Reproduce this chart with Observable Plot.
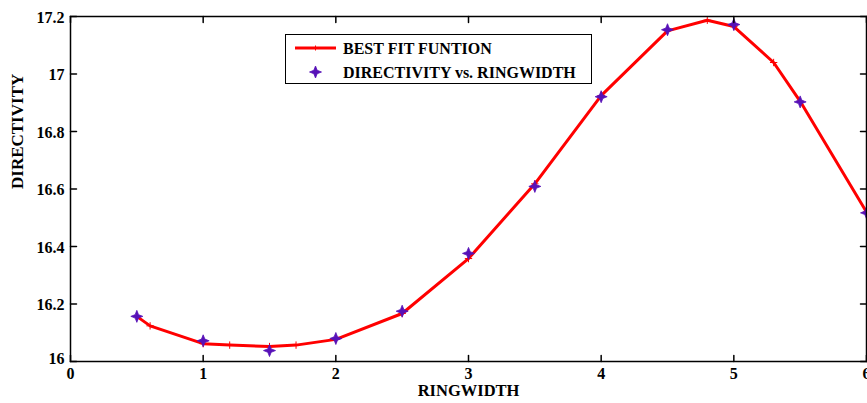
<!DOCTYPE html>
<html><head><meta charset="utf-8">
<script src="https://cdn.jsdelivr.net/npm/d3@7"></script>
<script src="https://cdn.jsdelivr.net/npm/@observablehq/plot@0.6"></script>
<style>
body{margin:0;background:#fff;}
#wrap{position:relative;width:867px;height:403px;}
#legend{position:absolute;left:285px;top:34px;width:305px;height:48px;border:1.5px solid #000;background:#fff;}
#legend text{font-family:"Liberation Serif","Times New Roman",serif;font-weight:bold;font-size:16px;}
</style></head><body><div id="wrap"></div>
<script>
// measured data (DIRECTIVITY vs. RINGWIDTH)
const ringwidth = [0.5, 1, 1.5, 2, 2.5, 3, 3.5, 4, 4.5, 5, 5.5, 6];
const directivity = [16.157, 16.072, 16.038, 16.080, 16.175, 16.376, 16.609, 16.921, 17.154, 17.172, 16.903, 16.517];
// best fit function polyline
const fitX = [0.5, 0.6, 1.0, 1.2, 1.5, 1.7, 2.0, 2.5, 3.0, 3.5, 4.0, 4.5, 4.8, 5.0, 5.3, 5.5, 6.0];
const fitY = [16.157, 16.124, 16.062, 16.057, 16.052, 16.057, 16.077, 16.167, 16.358, 16.618, 16.925, 17.150, 17.187, 17.165, 17.040, 16.905, 16.520];
const xTicks = [0, 1, 2, 3, 4, 5, 6];
const yTicks = [16, 16.2, 16.4, 16.6, 16.8, 17, 17.2];
const yTickLabels = ["16", "16.2", "16.4", "16.6", "16.8", "17", "17.2"];

const measured = ringwidth.map((x, i) => ({x, y: directivity[i]}));
const fit = fitX.map((x, i) => ({x, y: fitY[i]}));
const yLab = yTicks.map((y, i) => ({y, label: yTickLabels[i]}));

const FONT = '"Liberation Serif","Times New Roman",serif';
const PURPLE = "#5711b8";
const tickShape = {draw(ctx, l) { ctx.moveTo(0, 0); ctx.lineTo(0, -l); }};
const star4 = {draw(ctx, size) {
  const R = Math.sqrt(size / Math.PI), ri = R * 0.4;
  for (let i = 0; i < 8; i++) {
    const a = i * Math.PI / 4 - Math.PI / 2, r = i % 2 ? ri : R;
    const px = r * Math.cos(a), py = r * Math.sin(a);
    i ? ctx.lineTo(px, py) : ctx.moveTo(px, py);
  }
  ctx.closePath();
}};

const tickOpts = {shape: tickShape, length: 6, anchor: "start", stroke: "black", strokeWidth: 1.5};
const txt = {fontFamily: FONT, fontWeight: "bold", fontSize: 16, fill: "black"};

const chart = Plot.plot({
  width: 867, height: 403,
  marginLeft: 70, marginRight: 1, marginTop: 16, marginBottom: 42,
  x: {domain: [0, 6], axis: null},
  y: {domain: [16, 17.2], axis: null},
  style: {fontFamily: FONT, background: "white", overflow: "visible"},
  marks: [
    Plot.line(fit, {x: "x", y: "y", stroke: "#ff0000", strokeWidth: 3}),
    Plot.dot(fit, {x: "x", y: "y", symbol: "plus", r: 2.5, stroke: "#ff0000", strokeWidth: 1}),
    Plot.dot(measured, {x: "x", y: "y", symbol: star4, r: 6, fill: PURPLE, stroke: PURPLE, strokeWidth: 0.8}),
    Plot.vector(xTicks, {x: d => d, frameAnchor: "bottom", rotate: 0, ...tickOpts}),
    Plot.vector(xTicks, {x: d => d, frameAnchor: "top", rotate: 180, ...tickOpts}),
    Plot.vector(yTicks, {y: d => d, frameAnchor: "left", rotate: 90, ...tickOpts}),
    Plot.vector(yTicks, {y: d => d, frameAnchor: "right", rotate: -90, ...tickOpts}),
    Plot.frame({stroke: "black", strokeWidth: 1.5}),
    Plot.text(xTicks, {x: d => d, text: d => String(d), frameAnchor: "bottom", dy: 17.5, ...txt}),
    Plot.text(yLab.filter(d => d.y !== 16), {y: "y", text: "label", frameAnchor: "left", textAnchor: "end", dx: -6, dy: 1, ...txt}),
    Plot.text(yLab.filter(d => d.y === 16), {y: "y", text: "label", frameAnchor: "left", textAnchor: "end", dx: -6, dy: -3, ...txt}),
    Plot.text(["RINGWIDTH"], {frameAnchor: "bottom", dy: 34, fontFamily: FONT, fontWeight: "bold", fontSize: 16.5, fill: "black"}),
    Plot.text(["DIRECTIVITY"], {frameAnchor: "left", dx: -53, rotate: -90, fontFamily: FONT, fontWeight: "bold", fontSize: 17, fill: "black"})
  ]
});
const wrap = document.getElementById("wrap");
wrap.appendChild(chart);

// legend overlay
const legend = document.createElement("div");
legend.id = "legend";
const starPath = d3.path(); star4.draw(starPath, Math.PI * 6 * 6);
legend.innerHTML = `<svg width="305" height="48">
  <line x1="9" y1="13" x2="50" y2="13" stroke="#ff0000" stroke-width="3"/>
  <path d="M29.5,10.5V15.5M27,13H32" stroke="#ff0000" stroke-width="1"/>
  <text x="57" y="18.5">BEST FIT FUNTION</text>
  <path transform="translate(29.5,37)" d="${starPath}" fill="${PURPLE}" stroke="${PURPLE}" stroke-width="0.8"/>
  <text x="57" y="42.5">DIRECTIVITY vs. RINGWIDTH</text>
</svg>`;
wrap.appendChild(legend);
</script>
</body></html>
